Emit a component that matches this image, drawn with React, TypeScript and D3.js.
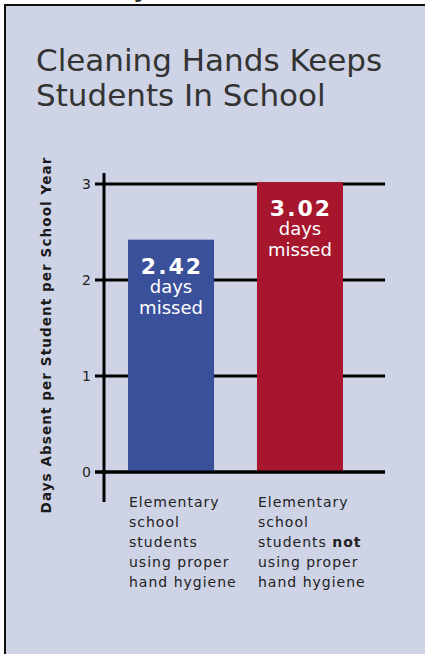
import React from 'react';
import * as d3 from 'd3';

// Chart data
const categories = ['proper', 'notProper'];
const daysMissed = [2.42, 3.02];
const barColors = ['#3A509B', '#A6172E'];
const yTicks = [0, 1, 2, 3];
const titleLines = ['Cleaning Hands Keeps', 'Students In School'];
const yAxisTitle = 'Days Absent per Student per School Year';
const categoryLabels = [
  ['Elementary', 'school', 'students', 'using proper', 'hand hygiene'],
  ['Elementary', 'school', 'students **not**', 'using proper', 'hand hygiene']
];

const W = 425;
const H = 654;
const FONT = '"DejaVu Sans", Verdana, sans-serif';

const App: React.FC = () => {
  const y = d3.scaleLinear().domain([0, 3]).range([472, 184]);
  const x = d3.scaleBand<string>().domain(categories).range([128, 343]).paddingInner(0.333).paddingOuter(0);
  const axisX = 104;
  const gridRight = 385;

  // renders a label line, with **word** drawn bold
  const renderLine = (line: string) => line.split(/(\*\*[^*]+\*\*)/).filter(s => s.length).map((part, i) => part.startsWith('**') ? <tspan key={i} fontWeight="bold">{part.slice(2, -2)}</tspan> : <tspan key={i}>{part}</tspan>);

  return <svg width={W} height={H} style={{ position: 'absolute', left: 0, top: 0, background: '#fff' }}>
      {/* panel + border */}
      <rect x={5} y={5} width={W} height={H} fill="#CED3E6" />
      <line x1={5} x2={W} y1={5} y2={5} stroke="#111" strokeWidth={2} />
      <line x1={5} x2={5} y1={4} y2={H} stroke="#111" strokeWidth={2} />
      {/* fragment of text from above the panel */}
      <text x={133} y={-4} fontFamily={FONT} fontSize={31} fill="#333">y</text>

      {/* title */}
      {titleLines.map((t, i) => <text key={t} x={36} y={71 + i * 35} fontFamily={FONT} fontSize={31} fill="#333">{t}</text>)}

      {/* y axis title */}
      <text transform={`translate(${51},${335}) rotate(-90)`} textAnchor="middle" fontFamily={FONT} fontSize={13.5} fontWeight="bold" letterSpacing={1.1} fill="#1a1a1a">{yAxisTitle}</text>

      {/* gridlines + ticks */}
      {yTicks.map(t => <g key={t}>
          <line x1={95} x2={gridRight} y1={y(t)} y2={y(t)} stroke="#000" strokeWidth={3} />
          <text x={91} y={y(t)} dy="0.36em" textAnchor="end" fontFamily={FONT} fontSize={14} fill="#222">{t}</text>
        </g>)}

      {/* bars */}
      {categories.map((c, i) => {
      const bx = x(c) || 0;
      const top = y(daysMissed[i]);
      const cx = bx + x.bandwidth() / 2;
      return <g key={c}>
            <rect x={bx} y={top} width={x.bandwidth()} height={y(0) - top} fill={barColors[i]} />
            <text x={cx + 1} y={top + 34} textAnchor="middle" fontFamily={FONT} fontSize={22} fontWeight="bold" letterSpacing={2} fill="#fff">{daysMissed[i].toFixed(2)}</text>
            <text x={cx} y={top + 53} textAnchor="middle" fontFamily={FONT} fontSize={18} fill="#fff">days</text>
            <text x={cx} y={top + 74} textAnchor="middle" fontFamily={FONT} fontSize={18} fill="#fff">missed</text>
          </g>;
    })}

      {/* zero line + y axis */}
      <line x1={95} x2={gridRight} y1={y(0)} y2={y(0)} stroke="#000" strokeWidth={3} />
      <line x1={axisX} x2={axisX} y1={173} y2={502} stroke="#000" strokeWidth={3} />

      {/* category labels */}
      {categories.map((c, i) => <text key={c} fontFamily={FONT} fontSize={14} letterSpacing={1} fill="#222">
          {categoryLabels[i].map((line, j) => <tspan key={j} x={(x(c) || 0) + 1} y={507 + j * 20}>{renderLine(line)}</tspan>)}
        </text>)}
    </svg>;
};

export default App;
